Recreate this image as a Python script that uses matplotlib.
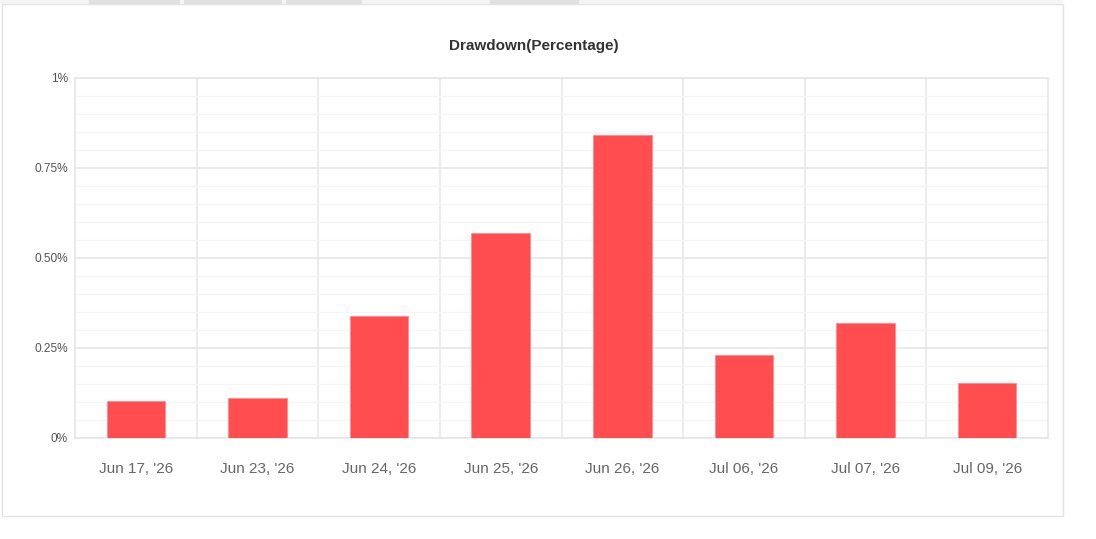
import matplotlib
matplotlib.use("Agg")
from matplotlib import pyplot as plt
from matplotlib.patches import Rectangle
from matplotlib.ticker import FixedLocator, MultipleLocator

plt.rcParams['font.family'] = ['Liberation Sans', 'DejaVu Sans']

# data
dates = ["Jun 17, '26", "Jun 23, '26", "Jun 24, '26", "Jun 25, '26",
         "Jun 26, '26", "Jul 06, '26", "Jul 07, '26", "Jul 09, '26"]
drawdown = [0.103, 0.111, 0.339, 0.569, 0.842, 0.231, 0.319, 0.153]
y_ticks = [0, 0.25, 0.5, 0.75, 1.0]
y_labels = ["0%", "0.25%", "0.50%", "0.75%", "1%"]

W, H = 1096, 539
fig = plt.figure(figsize=(W / 100, H / 100), dpi=100)
fig.patch.set_facecolor("white")

# card border and top tabs
fig.patches.append(Rectangle((2 / W, 1 - 516 / H), 1061 / W, 512 / H,
                             transform=fig.transFigure, facecolor="white",
                             edgecolor="#e3e3e3", linewidth=1, zorder=-2))
fig.patches.append(Rectangle((0, 1 - 4 / H), 1063 / W, 4 / H,
                             transform=fig.transFigure, facecolor="#f4f4f4",
                             edgecolor="none", zorder=-1))
for x0, x1 in [(89, 180), (184, 282), (286, 362), (490, 579)]:
    fig.patches.append(Rectangle((x0 / W, 1 - 4 / H), (x1 - x0) / W, 4 / H,
                                 transform=fig.transFigure, facecolor="#e0e0e0",
                                 edgecolor="none", zorder=-1))

ax = fig.add_axes([75 / W, 1 - 438 / H, (1048 - 75) / W, (438 - 78) / H])
ax.set_zorder(5)
ax.set_facecolor("none")

x = range(len(dates))
ax.bar(x, drawdown, width=0.48, color="#ff4d50", edgecolor="#ff8a8c",
       linewidth=0.6, zorder=3)

ax.set_xlim(-0.5, len(dates) - 0.5)
ax.set_ylim(0, 1.0)

ax.set_yticks(y_ticks)
ax.set_yticklabels(y_labels)
ax.yaxis.set_minor_locator(MultipleLocator(0.05))
ax.set_xticks(list(x))
ax.set_xticklabels(dates)
ax.xaxis.set_minor_locator(FixedLocator([i + 0.5 for i in range(len(dates) - 1)]))

ax.grid(which="major", axis="y", color="#e6e6e6", linewidth=1.2, zorder=0)
ax.grid(which="minor", axis="y", color="#f5f5f5", linewidth=1, zorder=0)
ax.grid(which="minor", axis="x", color="#ececec", linewidth=1.5, zorder=0)
ax.grid(which="major", axis="x", visible=False)

for s in ax.spines.values():
    s.set_color("#e6e6e6")
    s.set_linewidth(1.2)

ax.tick_params(axis="both", which="both", length=0)
ax.tick_params(axis="y", labelsize=8.6, labelcolor="#555555", pad=5)
ax.tick_params(axis="x", labelsize=11, labelcolor="#666666", pad=17)

fig.text(534 / W, 1 - 46 / H, "Drawdown(Percentage)", ha="center", va="center",
         fontsize=11, fontweight="bold", color="#333333")

fig.savefig("out.png", dpi=100)
